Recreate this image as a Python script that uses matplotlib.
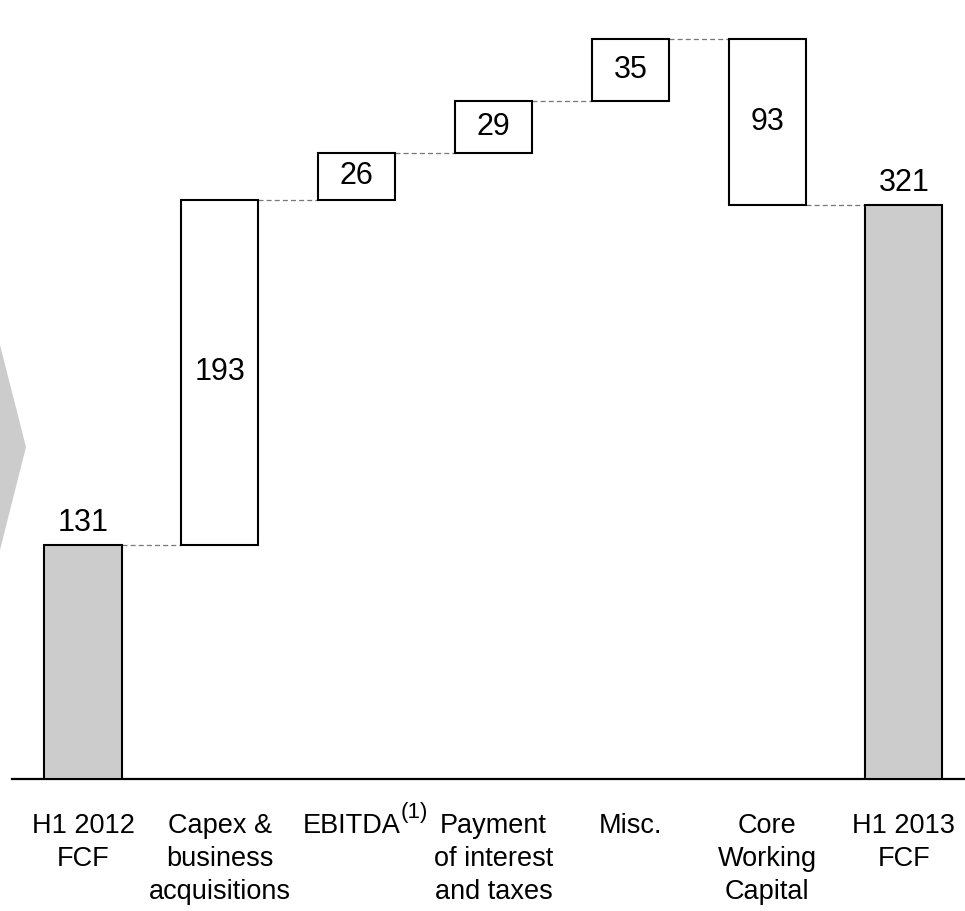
import matplotlib
matplotlib.use("Agg")
import matplotlib.pyplot as plt
from matplotlib.patches import Polygon

plt.rcParams['font.family'] = ['Liberation Sans', 'DejaVu Sans']

categories = ["H1 2012\nFCF", "Capex &\nbusiness\nacquisitions", "EBITDA",
              "Payment\nof interest\nand taxes", "Misc.", "Core\nWorking\nCapital",
              "H1 2013\nFCF"]
start_value = 131
deltas = [193, 26, 29, 35, -93]
end_value = 321

W, H = 965, 911
fig = plt.figure(figsize=(W / 100, H / 100), dpi=100)

# decorative chevron at left edge
chev = Polygon([(0, 1 - 345 / H), (26 / W, 1 - 447 / H), (0, 1 - 550 / H)],
               closed=True, transform=fig.transFigure, facecolor="#cccccc",
               edgecolor="none")
fig.patches.append(chev)

ax = fig.add_axes([12 / W, (H - 779) / H, (965 - 12) / W, 768.8 / H])
ax.set_xlim(-0.519, 6.446)
ax.set_ylim(0, 430)
for s in ["top", "right", "left"]:
    ax.spines[s].set_visible(False)
ax.spines["bottom"].set_linewidth(1.6)
ax.set_yticks([])
ax.set_xticks([])

bw = 0.563
n = len(categories)
levels = [start_value]
run = start_value
bottoms, heights = [0], [start_value]
for d in deltas:
    if d >= 0:
        bottoms.append(run)
        heights.append(d)
    else:
        bottoms.append(run + d)
        heights.append(-d)
    run += d
    levels.append(run)
bottoms.append(0)
heights.append(end_value)
levels.append(end_value)

for i in range(n):
    total = (i == 0 or i == n - 1)
    ax.bar(i, heights[i], bottom=bottoms[i], width=bw,
           color="#cccccc" if total else "white", edgecolor="black",
           linewidth=1.5, zorder=3)
    if total:
        ax.text(i, heights[i] + 4, str(heights[i]), ha="center", va="bottom",
                fontsize=22)
    else:
        ax.text(i, bottoms[i] + heights[i] / 2, str(abs(deltas[i - 1])),
                ha="center", va="center", fontsize=22)

# connectors
for i in range(n - 1):
    ax.plot([i + bw / 2, i + 1 - bw / 2], [levels[i], levels[i]],
            color="#777777", lw=0.9, ls=(0, (4, 2.5)), zorder=2)

# category labels
for i, c in enumerate(categories):
    xi = i - 5 / 136.8 if c == "EBITDA" else i
    t = ax.text(xi, -19, c, ha="center", va="top", fontsize=19.5,
                linespacing=1.34, transform=ax.transData, clip_on=False)
    if c == "EBITDA":
        ax.annotate("(1)", xy=(1, 1), xycoords=t, xytext=(0, -7),
                    textcoords="offset points", ha="left", va="bottom",
                    fontsize=16)

fig.savefig("out.png", dpi=100)
